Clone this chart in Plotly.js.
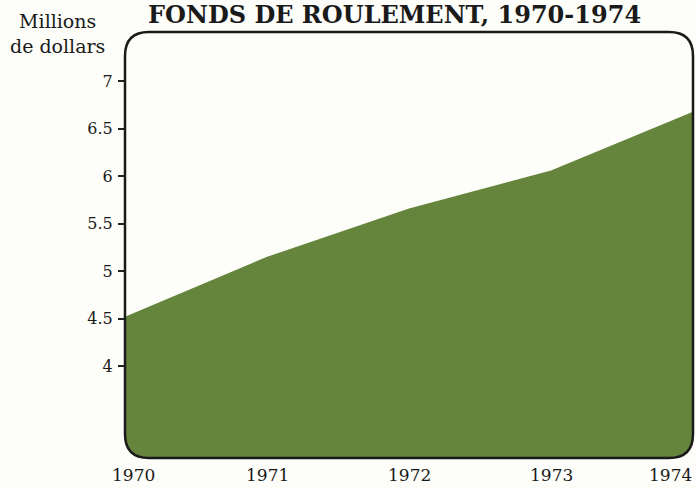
<!DOCTYPE html>
<html><head><meta charset="utf-8">
<script src="https://cdn.plot.ly/plotly-3.0.1.min.js"></script>
<style>html,body{margin:0;padding:0;background:#fdfdf9;}</style>
</head><body><div id="chart" style="width:697px;height:489px;"></div>
<script>
const years = [1970, 1971, 1972, 1973, 1974];
const fonds = [4.52, 5.15, 5.66, 6.06, 6.68];
const yTickVals = [4, 4.5, 5, 5.5, 6, 6.5, 7];
const yTickText = ['4', '4.5', '5', '5.5', '6', '6.5', '7'];
const xTickText = ['1970', '1971', '1972', '1973', '1974'];

const W = 697, H = 489, L = 125, R = 693, T = 32, B = 458;
const px = x => ((x - L) / (R - L)).toFixed(5);
const py = y => ((B - y) / (B - T)).toFixed(5);
const r = 24;
function cornerMask(cx, cy, dx, dy) {
  return `M ${px(cx)},${py(cy)} L ${px(cx+dx*r)},${py(cy)} Q ${px(cx)},${py(cy)} ${px(cx)},${py(cy+dy*r)} Z`;
}
const roundRect = `M ${px(L+r)},${py(T)} L ${px(R-r)},${py(T)} Q ${px(R)},${py(T)} ${px(R)},${py(T+r)} ` +
  `L ${px(R)},${py(B-r)} Q ${px(R)},${py(B)} ${px(R-r)},${py(B)} L ${px(L+r)},${py(B)} Q ${px(L)},${py(B)} ${px(L)},${py(B-r)} ` +
  `L ${px(L)},${py(T+r)} Q ${px(L)},${py(T)} ${px(L+r)},${py(T)} Z`;

const bg = '#fdfdf9';
const shapes = [
  cornerMask(L, T, 1, 1), cornerMask(R, T, -1, 1), cornerMask(L, B, 1, -1), cornerMask(R, B, -1, -1)
].map(p => ({type: 'path', xref: 'paper', yref: 'paper', path: p, fillcolor: bg, line: {width: 0}, layer: 'above'}));
shapes.push({type: 'path', xref: 'paper', yref: 'paper', path: roundRect, line: {color: '#1a1a1a', width: 2.5}, layer: 'above'});

const trace = {
  x: years, y: fonds, type: 'scatter', mode: 'lines', fill: 'tozeroy',
  fillcolor: '#66853c', line: {width: 0, color: '#66853c'}, hoverinfo: 'skip'
};

const serif = '"DejaVu Serif", "Liberation Serif", serif';
const xAnchors = ['left', 'center', 'center', 'center', 'right'];
const xShifts = [-14, 0, 0, 0, 0];
const xLabels = years.map((yr, i) => ({
  text: xTickText[i], x: yr, xref: 'x', yref: 'paper', y: py(475), yanchor: 'middle',
  xanchor: xAnchors[i], xshift: xShifts[i], showarrow: false, borderpad: 0,
  font: {family: serif, size: 17, color: '#1a1a1a'}
}));

const layout = {
  width: W, height: H,
  margin: {l: L, r: W - R, t: T, b: H - B},
  paper_bgcolor: bg, plot_bgcolor: bg,
  showlegend: false,
  xaxis: {range: [1970, 1974], showticklabels: false, showgrid: false, zeroline: false,
    showline: false, ticks: ''},
  yaxis: {range: [3.03, 7.52], tickvals: yTickVals, ticktext: yTickText, showgrid: false, zeroline: false,
    showline: false, ticks: 'outside', ticklen: 6, tickwidth: 2, tickcolor: '#222', ticklabelstandoff: 2,
    tickfont: {family: serif, size: 16, color: '#1a1a1a'}},
  shapes: shapes,
  annotations: [
    {text: '<b>FONDS DE ROULEMENT, 1970-1974</b>', xref: 'paper', yref: 'paper', x: px(395), y: py(14),
     xanchor: 'center', yanchor: 'middle', showarrow: false, borderpad: 0,
     font: {family: serif, size: 24, color: '#1a1a1a'}},
    {text: 'Millions<br>de dollars', xref: 'paper', yref: 'paper', x: px(58), y: py(33),
     xanchor: 'center', yanchor: 'middle', align: 'center', showarrow: false, borderpad: 0,
     font: {family: serif, size: 19, color: '#1a1a1a'}}
  ].concat(xLabels)
};
Plotly.newPlot('chart', [trace], layout, {staticPlot: true});
</script></body></html>
